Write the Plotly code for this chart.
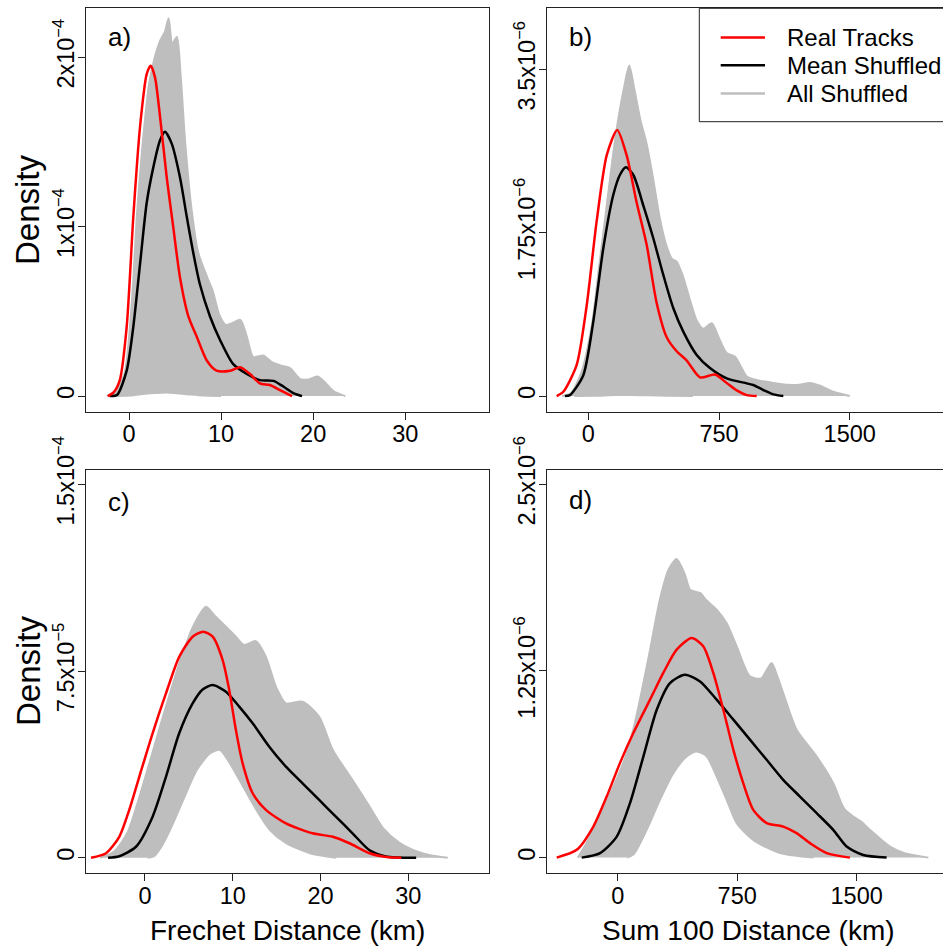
import plotly.graph_objects as go

W, H = 943, 947
FONT = "Liberation Sans, Arial, sans-serif"
RED, BLACK, GRAY = "#ff0000", "#000000", "#bebebe"

# ---------------- Panel a: Frechet distance (density unit 1e-4) ----------------
a_unit = 1e-4
a_real_x = [-2.3, -1.7, -1.0, -0.25, 0.47, 1.2, 1.92, 2.36, 2.83, 3.37, 4.1, 4.8, 5.54, 6.45,
            7.36, 8.45, 9.5, 11.0, 12.07, 13.15, 14.2, 15.3, 16.4, 17.7]
a_real_y = [0, 0.02, 0.094, 0.41, 1.06, 1.59, 1.90, 1.95, 1.88, 1.65, 1.29, 1.0, 0.70, 0.47,
            0.35, 0.21, 0.15, 0.15, 0.17, 0.13, 0.075, 0.065, 0.035, 0]
a_mean_x = [-2.1, -1.3, -0.25, 0.47, 1.2, 1.92, 2.64, 3.37, 3.91, 4.64, 5.54, 6.27, 7.0, 7.7,
            8.8, 9.9, 11.3, 12.8, 14.2, 15.7, 16.8, 17.9, 18.8]
a_mean_y = [0, 0.006, 0.15, 0.41, 0.78, 1.14, 1.35, 1.51, 1.56, 1.49, 1.29, 1.06, 0.84, 0.66,
            0.47, 0.33, 0.19, 0.13, 0.094, 0.09, 0.055, 0.016, 0]
a_shuf_hi_x = [-2.4, -1.5, -0.5, 0.3, 0.9, 1.5, 2.2, 2.8, 3.4, 3.9, 4.3, 4.7, 5.2, 5.6, 6.1,
               6.8, 7.5, 8.5, 9.1, 9.8, 10.5, 11.2, 12.1, 12.8, 13.5, 14.6, 15.5, 16.5, 17.5,
               18.6, 19.6, 20.5, 21.3, 22.2, 23.5]
a_shuf_hi_y = [0, 0.03, 0.13, 0.55, 1.1, 1.5, 1.85, 2.0, 2.10, 2.15, 2.23, 2.08, 2.12, 1.9, 1.5,
               1.1, 0.85, 0.70, 0.62, 0.48, 0.42, 0.43, 0.45, 0.35, 0.23, 0.24, 0.2, 0.18, 0.165,
               0.10, 0.10, 0.115, 0.08, 0.03, 0]
a_shuf_lo_x = [-1.5, 0.5, 2.0, 3.5, 4.5, 5.5, 6.5, 8.0, 10.0]
a_shuf_lo_y = [0, 0.005, 0.015, 0.02, 0.02, 0.015, 0.01, 0.003, 0]

# ---------------- Panel b: Sum 100 distance (density unit 1e-6) ----------------
b_unit = 1e-6
b_real_x = [-181, -143, -67, -9, 48, 106, 166, 220, 278, 335, 392, 450, 507, 565, 641, 727,
            794, 852, 909, 966]
b_real_y = [0, 0.046, 0.33, 0.97, 1.87, 2.58, 2.85, 2.58, 2.07, 1.62, 1.0, 0.63, 0.48, 0.38,
            0.2, 0.23, 0.14, 0.06, 0.01, 0]
b_mean_x = [-134, -105, -29, 29, 86, 143, 182, 216, 258, 316, 373, 430, 488, 545, 622, 698,
            794, 909, 947, 1004, 1062, 1119]
b_mean_y = [0, 0.01, 0.22, 0.80, 1.58, 2.15, 2.37, 2.45, 2.37, 2.04, 1.69, 1.30, 0.94, 0.69,
            0.44, 0.30, 0.19, 0.136, 0.118, 0.064, 0.018, 0]
b_shuf_hi_x = [-150, -100, -40, 20, 60, 100, 140, 175, 205, 235, 265, 300, 335, 370, 411, 450,
               480, 507, 540, 580, 622, 660, 708, 750, 794, 842, 880, 909, 970, 1062, 1150,
               1210, 1272, 1330, 1400, 1500]
b_shuf_hi_y = [0, 0.03, 0.25, 0.75, 1.35, 1.95, 2.55, 3.0, 3.3, 3.54, 3.28, 2.95, 2.7, 2.35, 1.9,
               1.6, 1.47, 1.44, 1.3, 1.05, 0.81, 0.72, 0.78, 0.62, 0.46, 0.42, 0.3, 0.21, 0.17,
               0.14, 0.12, 0.12, 0.14, 0.11, 0.05, 0]
b_shuf_lo_x = [-80, 50, 150, 250, 350, 450, 600]
b_shuf_lo_y = [0, 0.004, 0.01, 0.01, 0.008, 0.003, 0]

# ---------------- Panel c: Frechet distance (density unit 1e-5) ----------------
c_unit = 1e-5
c_real_x = [-6.15, -4.44, -2.93, -1.79, -0.65, 0.87, 2.39, 3.9, 5.43, 6.64, 7.71, 8.85, 9.6,
            10.36, 11.13, 12.27, 13.78, 16.06, 19.1, 21.4, 23.3, 25.6, 27.5, 29.2]
c_real_y = [0, 0.18, 0.84, 1.92, 3.25, 5.0, 6.6, 8.07, 8.88, 9.08, 8.88, 7.94, 6.74, 5.13,
            3.79, 2.59, 1.92, 1.38, 0.98, 0.84, 0.58, 0.18, 0.03, 0]
c_mean_x = [-4.2, -2.93, -1.03, 0.87, 2.39, 3.9, 5.43, 6.57, 7.71, 9.23, 10.74, 12.27, 14.16,
            16.06, 17.96, 19.85, 21.75, 23.65, 25.55, 27.45, 28.8, 30.9]
c_mean_y = [0, 0.06, 0.44, 1.65, 3.25, 5.0, 6.2, 6.76, 6.94, 6.67, 6.07, 5.4, 4.46, 3.66,
            2.99, 2.32, 1.65, 0.98, 0.31, 0.05, 0.01, 0]
c_shuf_hi_x = [-5.1, -3.5, -2, -0.5, 1, 2.5, 4, 5.5, 6.95, 8, 9.23, 10.3, 11.3, 12.64, 13.78,
               14.92, 16.06, 17.96, 19.85, 21.4, 23.65, 25.6, 27.1, 29, 31, 32.5, 34.5]
c_shuf_hi_y = [0, 0.25, 1.0, 2.6, 4.4, 6.2, 7.9, 9.3, 10.08, 9.7, 9.28, 8.9, 8.55, 8.7, 8.07,
               6.87, 6.2, 6.27, 5.66, 4.33, 3.12, 2.05, 1.2, 0.6, 0.25, 0.1, 0]
c_shuf_lo_x = [0.3, 1.0, 1.8, 2.85, 4.36, 5.9, 7.4, 8.54, 9.68, 11.2, 12.7, 14.24, 16.1, 18.8, 21.8]
c_shuf_lo_y = [0, 0.05, 0.4, 1.11, 2.32, 3.52, 4.19, 4.33, 3.79, 2.85, 1.92, 1.11, 0.58, 0.18, 0]

# ---------------- Panel d: Sum 100 distance (density unit 1e-6) ----------------
d_unit = 1e-6
d_real_x = [-383, -257, -153, -69, 14, 98, 203, 286, 370, 464, 537, 600, 663, 726, 788, 851,
            935, 1039, 1123, 1207, 1312, 1458]
d_real_y = [0, 0.052, 0.208, 0.409, 0.633, 0.834, 1.058, 1.237, 1.393, 1.471, 1.415, 1.237,
            0.99, 0.722, 0.499, 0.32, 0.231, 0.208, 0.164, 0.097, 0.03, 0]
d_mean_x = [-226, -111, -6, 77, 161, 245, 328, 422, 517, 621, 726, 830, 935, 1039, 1144, 1249,
            1353, 1437, 1541, 1688]
d_mean_y = [0, 0.03, 0.141, 0.365, 0.677, 0.99, 1.169, 1.225, 1.18, 1.058, 0.924, 0.79, 0.655,
            0.521, 0.409, 0.298, 0.186, 0.074, 0.018, 0]
d_shuf_hi_x = [-250, -195, -111, -17, 50, 98, 140, 203, 265, 320, 370, 420, 454, 490, 517, 560,
               621, 684, 747, 830, 900, 966, 1000, 1039, 1123, 1249, 1353, 1420, 1479, 1530,
               1583, 1709, 1800, 1950]
d_shuf_hi_y = [0, 0.1, 0.275, 0.5, 0.68, 0.86, 1.06, 1.39, 1.73, 1.93, 2.0, 1.9, 1.795, 1.78,
               1.773, 1.72, 1.661, 1.57, 1.415, 1.214, 1.2, 1.304, 1.22, 1.102, 0.856, 0.677,
               0.499, 0.33, 0.275, 0.24, 0.186, 0.074, 0.03, 0]
d_shuf_lo_x = [60, 98, 182, 265, 349, 433, 496, 559, 621, 684, 747, 851, 1019, 1230]
d_shuf_lo_y = [0, 0.02, 0.186, 0.387, 0.566, 0.677, 0.711, 0.677, 0.543, 0.387, 0.231, 0.119,
               0.03, 0]

# tick labels
a_yticks, a_yticktext = [0, 1e-4, 2e-4], ["0", "1x10<sup>−4</sup>", "2x10<sup>−4</sup>"]
b_yticks, b_yticktext = [0, 1.75e-6, 3.5e-6], ["0", "1.75x10<sup>−6</sup>", "3.5x10<sup>−6</sup>"]
c_yticks, c_yticktext = [0, 7.5e-5, 1.5e-4], ["0", "7.5x10<sup>−5</sup>", "1.5x10<sup>−4</sup>"]
d_yticks, d_yticktext = [0, 1.25e-6, 2.5e-6], ["0", "1.25x10<sup>−6</sup>", "2.5x10<sup>−6</sup>"]
frechet_xticks = [0, 10, 20, 30]
sum_xticks = [0, 750, 1500]

legend_names = ["Real Tracks", "Mean Shuffled", "All Shuffled"]
legend_colors = [RED, BLACK, GRAY]

panels = [
    dict(unit=a_unit, real=(a_real_x, a_real_y), mean=(a_mean_x, a_mean_y),
         hi=(a_shuf_hi_x, a_shuf_hi_y), lo=(a_shuf_lo_x, a_shuf_lo_y),
         xr=[-4.67, 39.1], yr=[-0.094e-4, 2.289e-4], xt=frechet_xticks,
         yt=(a_yticks, a_yticktext), xd=[86 / W, 489 / W], yd=[1 - 412 / H, 1 - 8.3 / H],
         right=True),
    dict(unit=b_unit, real=(b_real_x, b_real_y), mean=(b_mean_x, b_mean_y),
         hi=(b_shuf_hi_x, b_shuf_hi_y), lo=(b_shuf_lo_x, b_shuf_lo_y),
         xr=[-235, 2035], yr=[-0.171e-6, 4.153e-6], xt=sum_xticks,
         yt=(b_yticks, b_yticktext), xd=[547.3 / W, 1.0], yd=[1 - 412 / H, 1 - 8.3 / H],
         right=False),
    dict(unit=c_unit, real=(c_real_x, c_real_y), mean=(c_mean_x, c_mean_y),
         hi=(c_shuf_hi_x, c_shuf_hi_y), lo=(c_shuf_lo_x, c_shuf_lo_y),
         xr=[-6.72, 39.2], yr=[-0.627e-5, 15.59e-5], xt=frechet_xticks,
         yt=(c_yticks, c_yticktext), xd=[86 / W, 489 / W], yd=[1 - 873.3 / H, 1 - 469.7 / H],
         right=True),
    dict(unit=d_unit, real=(d_real_x, d_real_y), mean=(d_mean_x, d_mean_y),
         hi=(d_shuf_hi_x, d_shuf_hi_y), lo=(d_shuf_lo_x, d_shuf_lo_y),
         xr=[-442, 2042], yr=[-0.105e-6, 2.598e-6], xt=sum_xticks,
         yt=(d_yticks, d_yticktext), xd=[547.3 / W, 1.0], yd=[1 - 873.3 / H, 1 - 469.7 / H],
         right=False),
]

fig = go.Figure()
layout = {}
tickfont = dict(family=FONT, size=23.5, color="black")
for i, p in enumerate(panels, start=1):
    sfx = "" if i == 1 else str(i)
    xa, ya = "x" + sfx, "y" + sfx
    u = p["unit"]
    sp = dict(shape="spline", smoothing=0.7)
    # shuffled band: lower envelope then upper envelope filled down to it
    fig.add_trace(go.Scatter(x=p["lo"][0], y=[v * u for v in p["lo"][1]], mode="lines",
                             line=dict(color=GRAY, width=2, **sp), name="All Shuffled",
                             showlegend=False, xaxis=xa, yaxis=ya, hoverinfo="skip"))
    fig.add_trace(go.Scatter(x=p["hi"][0], y=[v * u for v in p["hi"][1]], mode="lines",
                             line=dict(color=GRAY, width=2, **sp), fill="tonexty",
                             fillcolor=GRAY, name="All Shuffled",
                             showlegend=False, xaxis=xa, yaxis=ya, hoverinfo="skip"))
    fig.add_trace(go.Scatter(x=p["mean"][0], y=[v * u for v in p["mean"][1]], mode="lines",
                             line=dict(color=BLACK, width=2.5, **sp), name="Mean Shuffled",
                             showlegend=False, xaxis=xa, yaxis=ya))
    fig.add_trace(go.Scatter(x=p["real"][0], y=[v * u for v in p["real"][1]], mode="lines",
                             line=dict(color=RED, width=2.5, **sp), name="Real Tracks",
                             showlegend=False, xaxis=xa, yaxis=ya))
    layout["xaxis" + sfx] = dict(domain=p["xd"], range=p["xr"], anchor=ya, tickvals=p["xt"],
                                 showgrid=False, zeroline=False, showline=True,
                                 linecolor="#222", linewidth=1, mirror=True, ticks="outside",
                                 ticklen=7, tickwidth=1, tickcolor="#222", tickfont=tickfont,
                                 ticklabelstandoff=-6, automargin=False)
    layout["yaxis" + sfx] = dict(domain=p["yd"], range=p["yr"], anchor=xa,
                                 tickvals=p["yt"][0], ticktext=p["yt"][1], tickangle=-90,
                                 showgrid=False, zeroline=False, showline=True,
                                 linecolor="#222", linewidth=1, mirror=p["right"],
                                 ticks="outside", ticklen=7, tickwidth=1, tickcolor="#222",
                                 tickfont=tickfont, ticklabelstandoff=-5, automargin=False)

ann = []
for txt, px, py in [("a)", 106, 36.7), ("b)", 566.7, 36.7), ("c)", 106, 501.7), ("d)", 566.7, 500)]:
    ann.append(dict(text=txt, x=px / W, y=1 - py / H, xref="paper", yref="paper",
                    xanchor="left", yanchor="middle", showarrow=False,
                    font=dict(family=FONT, size=26, color="black")))
for py in [210, 671]:
    ann.append(dict(text="Density", x=28 / W, y=1 - py / H, xref="paper", yref="paper",
                    xanchor="center", yanchor="middle", textangle=-90, showarrow=False,
                    font=dict(family=FONT, size=33, color="black")))
for txt, px in [("Frechet Distance (km)", 287.5), ("Sum 100 Distance (km)", 748.5)]:
    ann.append(dict(text=txt, x=px / W, y=1 - 930 / H, xref="paper", yref="paper",
                    xanchor="center", yanchor="middle", showarrow=False,
                    font=dict(family=FONT, size=28, color="black")))

# legend box (R-style, drawn in panel b's corner)
shapes = [dict(type="rect", xref="paper", yref="paper", x0=699.3 / W, x1=1.05,
               y0=1 - 121.7 / H, y1=1 - 8.3 / H, line=dict(color="#222", width=1),
               fillcolor="white", layer="above")]
for name, col, py in zip(legend_names, legend_colors, [37.5, 65.3, 93.6]):
    shapes.append(dict(type="line", xref="paper", yref="paper", x0=720.7 / W, x1=765 / W,
                       y0=1 - py / H, y1=1 - py / H, line=dict(color=col, width=2.5),
                       layer="above"))
    ann.append(dict(text=name, x=785 / W, y=1 - py / H, xref="paper", yref="paper",
                    xanchor="left", yanchor="middle", showarrow=False,
                    font=dict(family=FONT, size=24, color="black")))

fig.update_layout(
    width=W, height=H, margin=dict(l=0, r=0, t=0, b=0, autoexpand=False),
    paper_bgcolor="white", plot_bgcolor="white",
    annotations=ann, shapes=shapes, showlegend=False,
    **layout,
)

fig.write_html("out.html", config={"displayModeBar": False},
               post_script="document.body.style.margin='0';document.body.style.overflow='hidden';")
